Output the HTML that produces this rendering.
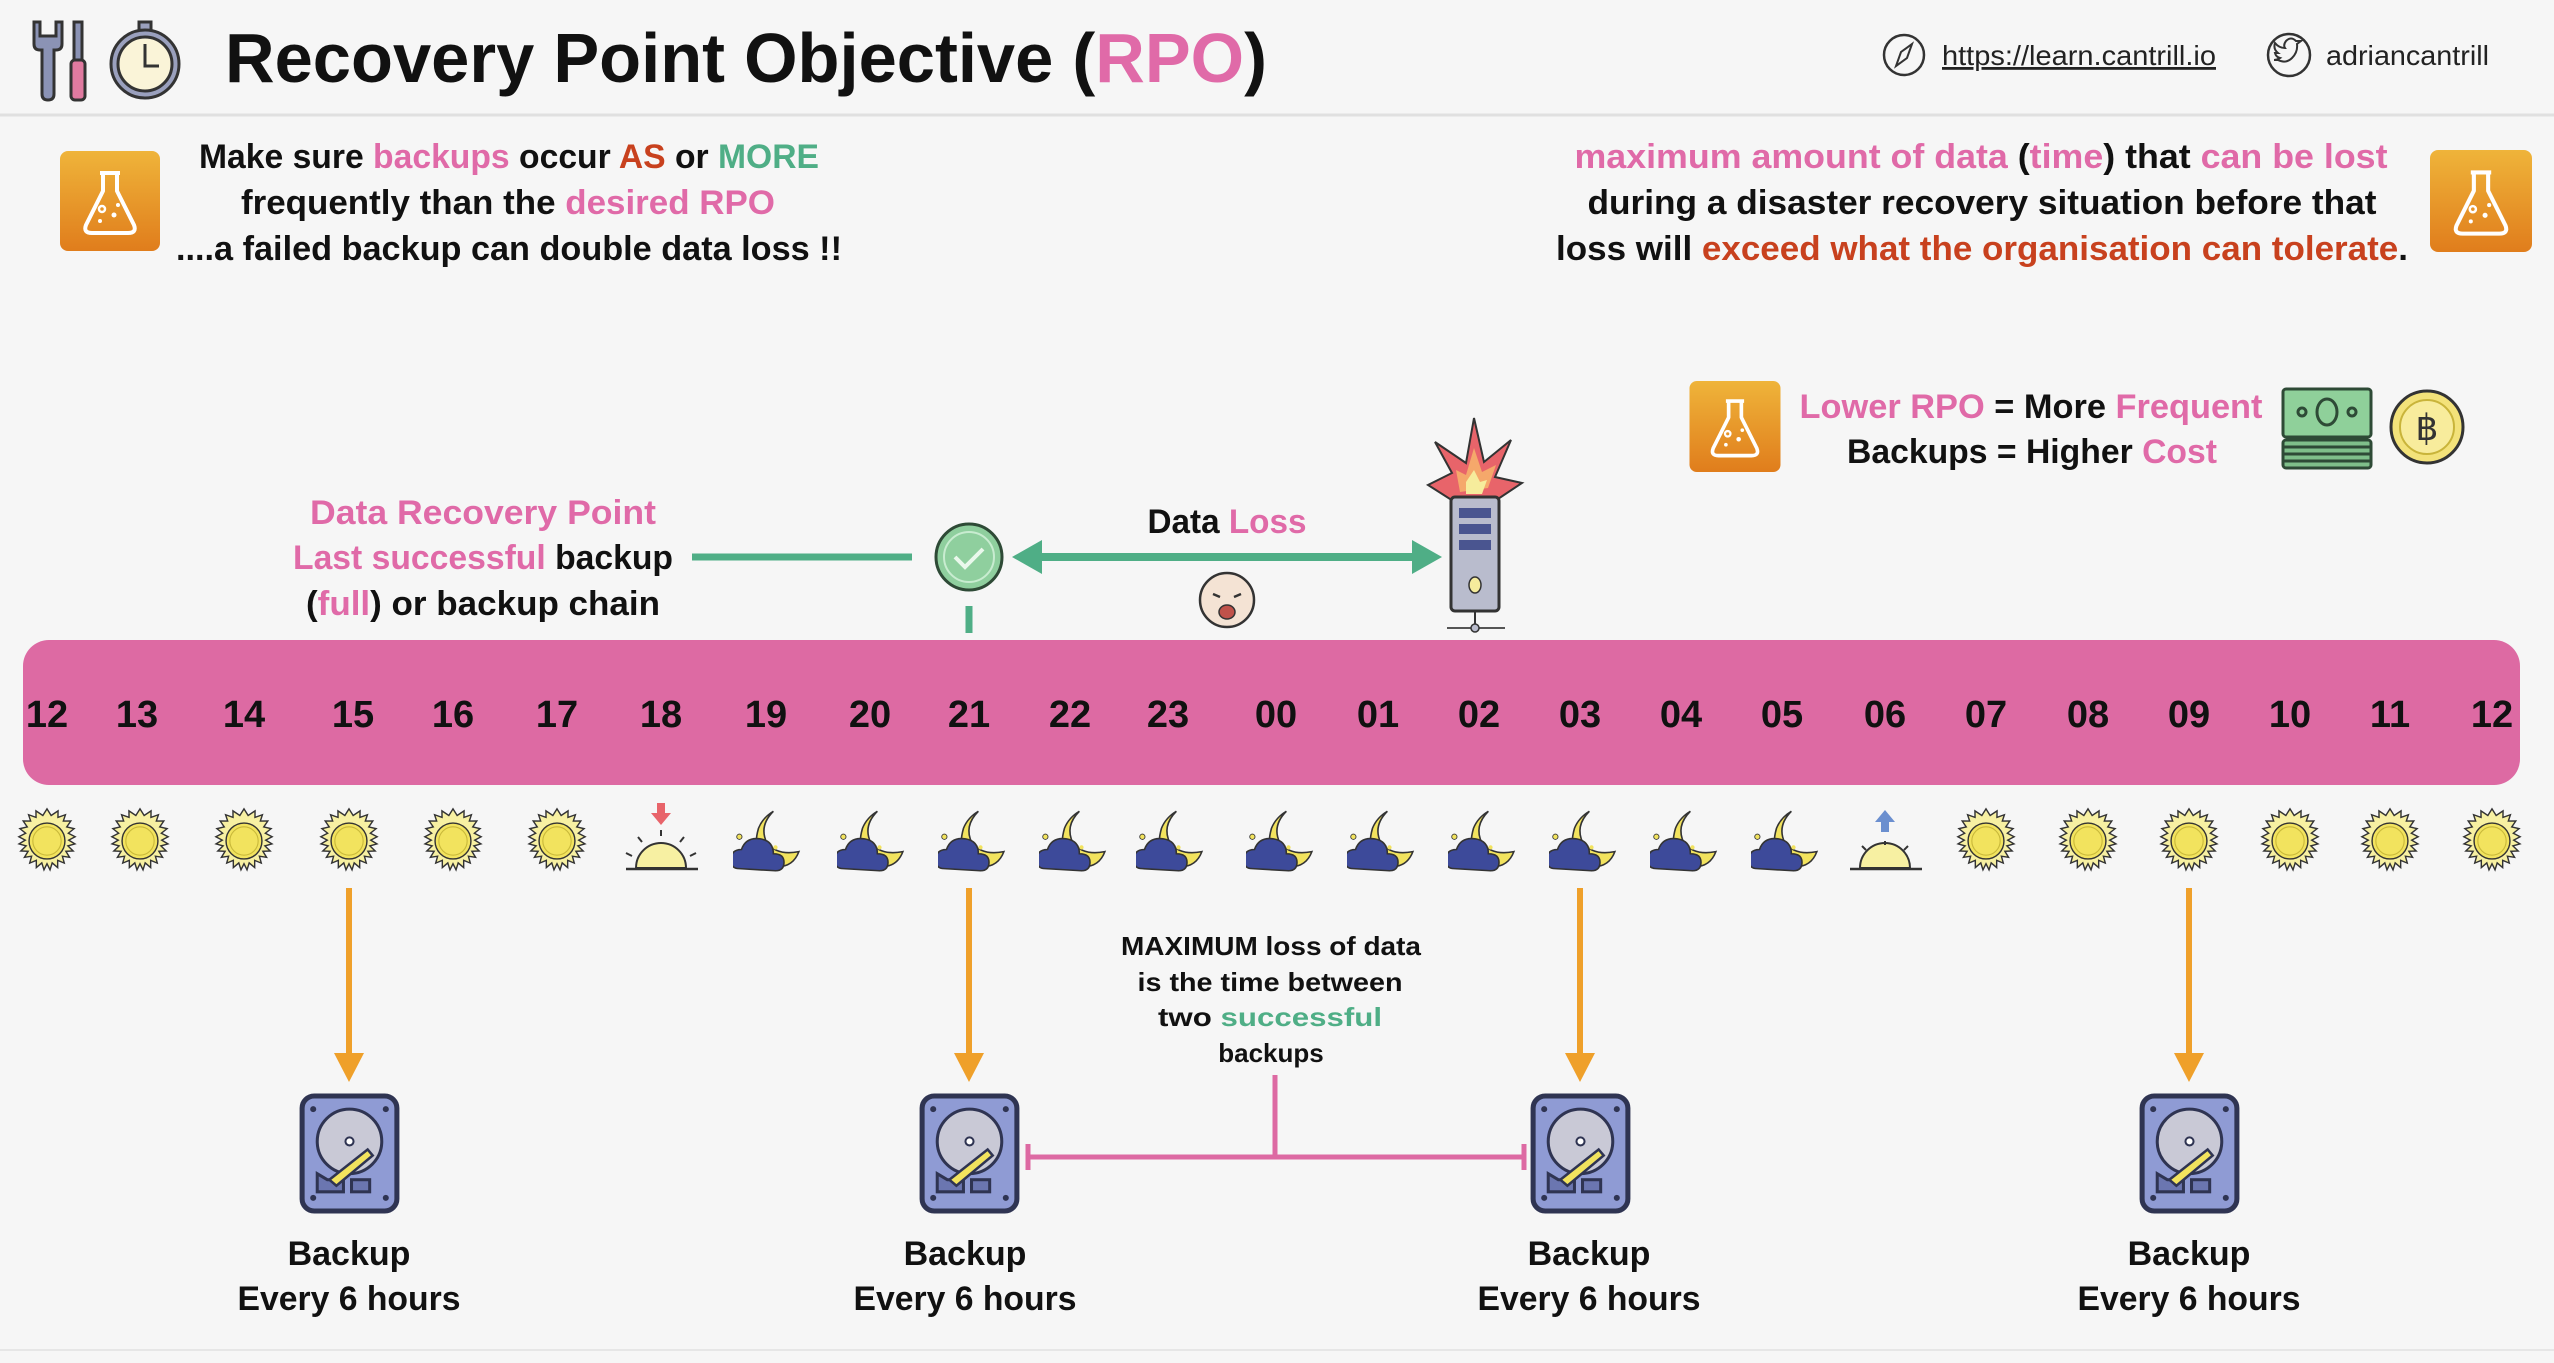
<!DOCTYPE html>
<html><head><meta charset="utf-8"><style>
html,body{margin:0;padding:0;background:#f6f6f6;}
svg{display:block;font-family:"Liberation Sans",sans-serif;font-weight:bold;}
</style></head><body>
<svg width="2554" height="1363" viewBox="0 0 2554 1363" xmlns="http://www.w3.org/2000/svg">
<defs>
<linearGradient id="og" x1="0" y1="0" x2="0" y2="1"><stop offset="0" stop-color="#efb43a"/><stop offset="1" stop-color="#e07d1c"/></linearGradient>
<symbol id="flask" viewBox="0 0 100 100">
<rect x="0" y="0" width="100" height="100" rx="8" fill="url(#og)"/>
<path d="M40 22 h20 M43 22 v18 L26 74 q-3 8 6 8 h36 q9 0 6 -8 L57 40 v-18" fill="none" stroke="#fff" stroke-width="4" stroke-linejoin="round"/>
<circle cx="42" cy="58" r="3" fill="none" stroke="#fff" stroke-width="2.5"/><circle cx="54" cy="64" r="2.5" fill="#fff"/><circle cx="40" cy="70" r="2" fill="#fff"/><circle cx="58" cy="54" r="2" fill="#fff"/>
</symbol>
<symbol id="sun" viewBox="-36 -36 72 72">
<polygon fill="#f7f0a2" stroke="#333" stroke-width="1.5" points="0,-34 4.4,-27 11.7,-31.9 11.6,-25 19.5,-27.8 17.3,-21.1 25.2,-21.2 20.9,-14.9 28.7,-13.1 22.6,-8.2 29.8,-4.5 23,-0.9 29.6,3.1 22.1,5.2 27.7,10.6 20,10.9 23.9,17.3 16.3,16.1 18.3,23.4 11.3,20.5 11.3,28.1 5.5,23.2 3.2,30.5 0,24 -3.2,30.5 -5.5,23.2 -11.3,28.1 -11.3,20.5 -18.3,23.4 -16.3,16.1 -23.9,17.3 -20,10.9 -27.7,10.6 -22.1,5.2 -29.6,3.1 -23,-0.9 -29.8,-4.5 -22.6,-8.2 -28.7,-13.1 -20.9,-14.9 -25.2,-21.2 -17.3,-21.1 -19.5,-27.8 -11.6,-25 -11.7,-31.9 -4.4,-27"/>
<circle r="19" fill="#f2e35e" stroke="#333" stroke-width="1.5"/>
<circle r="15" fill="none" stroke="#c9b93a" stroke-width="1.2"/>
</symbol>
<symbol id="moon" viewBox="-34 -32 64 60">
<path d="M4 -30 q-14 14 -6 30 q10 12 30 8 q-6 16 -24 14 q-22 -8 -14 -36 q4 -10 14 -16z" fill="#f2e35e" stroke="#333" stroke-width="1.5"/>
<path d="M-28 24 q-8 0 -8 -8 q0 -10 10 -10 q4 -12 18 -10 q12 2 12 14 q10 0 10 8 q0 8 -8 8z" fill="#3d4a9a" stroke="#333" stroke-width="1.5"/>
<circle cx="6" cy="4" r="2" fill="#f2e35e"/><circle cx="-28" cy="-6" r="2.5" fill="#f2e35e" stroke="#333" stroke-width="0.8"/>
</symbol>
<symbol id="disk" viewBox="0 0 100 120">
<rect x="3" y="3" width="94" height="114" rx="12" fill="#8f9bd4" stroke="#2f3452" stroke-width="5"/>
<circle cx="14" cy="16" r="3" fill="#2f3452"/><circle cx="86" cy="16" r="3" fill="#2f3452"/><circle cx="14" cy="104" r="3" fill="#2f3452"/><circle cx="86" cy="104" r="3" fill="#2f3452"/>
<circle cx="50" cy="48" r="32" fill="#c9c9d6" stroke="#2f3452" stroke-width="3"/>
<circle cx="50" cy="48" r="4" fill="#fff" stroke="#2f3452" stroke-width="2"/>
<path d="M18 80 v18 h26 v-12 h-16z" fill="#6b76b0" stroke="#2f3452" stroke-width="3"/>
<rect x="52" y="86" width="18" height="12" fill="#6b76b0" stroke="#2f3452" stroke-width="3"/>
<path d="M30 86 l38 -30 l5 6 l-36 30z" fill="#f2e35e" stroke="#2f3452" stroke-width="2.5"/>
</symbol>
</defs>

<rect width="2554" height="1363" fill="#f6f6f6"/>
<line x1="0" y1="115" x2="2554" y2="115" stroke="#e0e0e0" stroke-width="3"/>

<!-- header icons -->
<g stroke="#333" stroke-width="3">
<path d="M34 22 v22 q0 6 6 6 h2 v44 q0 6 6 6 q6 0 6 -6 v-44 h2 q6 0 6 -6 v-22 l-6 0 v14 h-16 v-14z" fill="#8b93b5"/>
<rect x="74" y="22" width="8" height="38" fill="#8b93b5"/>
<rect x="71" y="60" width="14" height="40" rx="4" fill="#e07aa0"/>
<rect x="139" y="22" width="12" height="9" fill="#9aa0bd"/>
<circle cx="145" cy="64" r="34" fill="#9aa0bd"/>
<circle cx="145" cy="64" r="27" fill="#faf4d8"/>
<path d="M145 44 v22 h14" fill="none"/>
</g>
<text x="225" y="82" font-size="70" fill="#111" textLength="1042" lengthAdjust="spacingAndGlyphs">Recovery Point Objective (<tspan fill="#e06aa8">RPO</tspan>)</text>

<circle cx="1904" cy="55" r="20" fill="none" stroke="#333" stroke-width="2.5"/>
<path d="M1912 44 l-5 14 l-11 8 l5 -14z" fill="none" stroke="#333" stroke-width="2"/>
<text x="1942" y="65" font-size="28" font-weight="normal" fill="#222" text-decoration="underline" textLength="274" lengthAdjust="spacingAndGlyphs">https://learn.cantrill.io</text>
<circle cx="2289" cy="55" r="21" fill="none" stroke="#333" stroke-width="2.5"/>
<path d="M2278 60 q8 4 14 -2 q6 -6 5 -14 l4 -3 l-5 0 q-5 -5 -10 0 q-3 4 -1 7 q-6 0 -10 -5 q-2 6 3 10 l-3 0 q1 4 5 5 q-3 2 -6 2z" fill="none" stroke="#333" stroke-width="2"/>
<text x="2326" y="65" font-size="28" font-weight="normal" fill="#222" textLength="163" lengthAdjust="spacingAndGlyphs">adriancantrill</text>

<!-- top text -->
<use href="#flask" x="60" y="150" width="100" height="102"/>
<g font-size="34" text-anchor="middle" fill="#111">
<text x="509" y="168" textLength="620" lengthAdjust="spacingAndGlyphs">Make sure <tspan fill="#e06aa8">backups</tspan> occur <tspan fill="#c8411e">AS</tspan> or <tspan fill="#4fae86">MORE</tspan></text>
<text x="508" y="214" textLength="534" lengthAdjust="spacingAndGlyphs">frequently than the <tspan fill="#e06aa8">desired RPO</tspan></text>
<text x="509" y="260" textLength="666" lengthAdjust="spacingAndGlyphs">....a failed backup can double data loss !!</text>
<text x="1981" y="168" textLength="813" lengthAdjust="spacingAndGlyphs"><tspan fill="#e06aa8">maximum amount of data</tspan> (<tspan fill="#e06aa8">time</tspan>) that <tspan fill="#e06aa8">can be lost</tspan></text>
<text x="1982" y="214" textLength="789" lengthAdjust="spacingAndGlyphs">during a disaster recovery situation before that</text>
<text x="1982" y="260" textLength="852" lengthAdjust="spacingAndGlyphs">loss will <tspan fill="#c8411e">exceed what the organisation can tolerate</tspan>.</text>
<text x="2031" y="418" textLength="463" lengthAdjust="spacingAndGlyphs"><tspan fill="#e06aa8">Lower RPO</tspan> = More <tspan fill="#e06aa8">Frequent</tspan></text>
<text x="2032" y="463" textLength="370" lengthAdjust="spacingAndGlyphs">Backups = Higher <tspan fill="#e06aa8">Cost</tspan></text>
<text x="483" y="524" textLength="346" lengthAdjust="spacingAndGlyphs" fill="#e06aa8">Data  Recovery Point</text>
<text x="483" y="569" textLength="380" lengthAdjust="spacingAndGlyphs"><tspan fill="#e06aa8">Last successful</tspan> backup</text>
<text x="483" y="615" textLength="354" lengthAdjust="spacingAndGlyphs">(<tspan fill="#e06aa8">full</tspan>) or backup chain</text>
<text x="1227" y="533" textLength="159" lengthAdjust="spacingAndGlyphs">Data <tspan fill="#e06aa8">Loss</tspan></text>
</g>
<use href="#flask" x="2429" y="150" width="104" height="102"/>
<use href="#flask" x="1689" y="381" width="92" height="91"/>

<!-- money & coin -->
<g stroke="#2e4a36" stroke-width="3">
<rect x="2283" y="440" width="88" height="28" rx="3" fill="#7fbf8a"/>
<line x1="2283" y1="447" x2="2371" y2="447"/><line x1="2283" y1="454" x2="2371" y2="454"/><line x1="2283" y1="461" x2="2371" y2="461"/>
<rect x="2283" y="389" width="88" height="48" rx="3" fill="#8fd09a"/>
<ellipse cx="2327" cy="412" rx="10" ry="13" fill="none"/>
<circle cx="2302" cy="412" r="4" fill="none"/><circle cx="2352" cy="412" r="4" fill="none"/>
</g>
<circle cx="2427" cy="427" r="36" fill="#f3e27a" stroke="#333" stroke-width="3"/>
<circle cx="2427" cy="427" r="27" fill="#f8ec9c" stroke="#c9b43a" stroke-width="2"/>
<text x="2427" y="440" font-size="36" text-anchor="middle" font-weight="normal" fill="#333">฿</text>

<!-- green line + check -->
<line x1="692" y1="557" x2="912" y2="557" stroke="#4fae86" stroke-width="7"/>
<circle cx="969" cy="557" r="33" fill="#8fcf9e" stroke="#2e4a36" stroke-width="3"/>
<circle cx="969" cy="557" r="25" fill="none" stroke="#c8ecd0" stroke-width="2"/>
<path d="M955 557 l10 10 l18 -18" fill="none" stroke="#eaf8ec" stroke-width="4"/>
<line x1="969" y1="606" x2="969" y2="633" stroke="#4fae86" stroke-width="7"/>
<!-- double arrow -->
<line x1="1035" y1="557" x2="1420" y2="557" stroke="#4fae86" stroke-width="8"/>
<polygon points="1012,557 1042,540 1042,574" fill="#4fae86"/>
<polygon points="1442,557 1412,540 1412,574" fill="#4fae86"/>
<!-- baby -->
<circle cx="1227" cy="600" r="27" fill="#f4e3d4" stroke="#333" stroke-width="2.5"/>
<ellipse cx="1227" cy="612" rx="8" ry="7" fill="#c0524a" stroke="#333" stroke-width="1.5"/>
<path d="M1213 594 l7 3 M1241 594 l-7 3" stroke="#333" stroke-width="2.5"/>
<!-- explosion + server -->
<polygon points="1474,418 1484,462 1511,440 1495,477 1522,483 1498,499 1450,499 1428,485 1452,473 1435,442 1466,463" fill="#e8646a" stroke="#333" stroke-width="2"/>
<polygon points="1474,448 1482,472 1496,465 1488,488 1460,492 1456,470 1466,475" fill="#f5a86b"/>
<polygon points="1474,470 1480,482 1487,480 1482,494 1466,494 1466,482" fill="#f6ec9c"/>
<rect x="1451" y="497" width="48" height="114" rx="4" fill="#b9bccd" stroke="#333" stroke-width="3"/>
<rect x="1459" y="508" width="32" height="10" fill="#4a5590"/><rect x="1459" y="524" width="32" height="10" fill="#4a5590"/><rect x="1459" y="540" width="32" height="10" fill="#4a5590"/>
<ellipse cx="1475" cy="585" rx="6" ry="8" fill="#f6ec9c" stroke="#333" stroke-width="1.5"/>
<line x1="1475" y1="611" x2="1475" y2="628" stroke="#333" stroke-width="2"/>
<line x1="1447" y1="628" x2="1505" y2="628" stroke="#555" stroke-width="2"/>
<circle cx="1475" cy="628" r="4" fill="#b9bccd" stroke="#333" stroke-width="1.5"/>

<!-- timeline bar -->
<rect x="23" y="640" width="2497" height="145" rx="26" fill="#dd6aa3"/>
<g font-size="38" text-anchor="middle" fill="#111">
<text x="47" y="727">12</text><text x="137" y="727">13</text><text x="244" y="727">14</text><text x="353" y="727">15</text><text x="453" y="727">16</text><text x="557" y="727">17</text><text x="661" y="727">18</text><text x="766" y="727">19</text><text x="870" y="727">20</text><text x="969" y="727">21</text><text x="1070" y="727">22</text><text x="1168" y="727">23</text><text x="1276" y="727">00</text><text x="1378" y="727">01</text><text x="1479" y="727">02</text><text x="1580" y="727">03</text><text x="1681" y="727">04</text><text x="1782" y="727">05</text><text x="1885" y="727">06</text><text x="1986" y="727">07</text><text x="2088" y="727">08</text><text x="2189" y="727">09</text><text x="2290" y="727">10</text><text x="2390" y="727">11</text><text x="2492" y="727">12</text>
</g>

<!-- icons row -->
<g>
<use href="#sun" x="13" y="807" width="68" height="68"/>
<use href="#sun" x="106" y="807" width="68" height="68"/>
<use href="#sun" x="210" y="807" width="68" height="68"/>
<use href="#sun" x="315" y="807" width="68" height="68"/>
<use href="#sun" x="419" y="807" width="68" height="68"/>
<use href="#sun" x="523" y="807" width="68" height="68"/>
<use href="#moon" x="733" y="807" width="68" height="68"/>
<use href="#moon" x="837" y="807" width="68" height="68"/>
<use href="#moon" x="938" y="807" width="68" height="68"/>
<use href="#moon" x="1039" y="807" width="68" height="68"/>
<use href="#moon" x="1136" y="807" width="68" height="68"/>
<use href="#moon" x="1246" y="807" width="68" height="68"/>
<use href="#moon" x="1347" y="807" width="68" height="68"/>
<use href="#moon" x="1448" y="807" width="68" height="68"/>
<use href="#moon" x="1549" y="807" width="68" height="68"/>
<use href="#moon" x="1650" y="807" width="68" height="68"/>
<use href="#moon" x="1751" y="807" width="68" height="68"/>
<use href="#sun" x="1952" y="807" width="68" height="68"/>
<use href="#sun" x="2054" y="807" width="68" height="68"/>
<use href="#sun" x="2155" y="807" width="68" height="68"/>
<use href="#sun" x="2256" y="807" width="68" height="68"/>
<use href="#sun" x="2356" y="807" width="68" height="68"/>
<use href="#sun" x="2458" y="807" width="68" height="68"/>
</g>
<!-- sunset -->
<path d="M636 868 a25 25 0 0 1 50 0z" fill="#f7f0a2" stroke="#333" stroke-width="2"/>
<line x1="626" y1="869" x2="698" y2="869" stroke="#333" stroke-width="2.5"/>
<path d="M661 836 v-6 M642 842 l-4 -5 M680 842 l4 -5 M632 856 l-6 -3 M690 856 l6 -3" stroke="#333" stroke-width="2"/>
<path d="M657 803 h8 v10 h6 l-10 12 l-10 -12 h6z" fill="#e8646a"/>
<!-- sunrise -->
<path d="M1860 868 a25 25 0 0 1 50 0z" fill="#f7f0a2" stroke="#333" stroke-width="2"/>
<line x1="1850" y1="869" x2="1922" y2="869" stroke="#333" stroke-width="2.5"/>
<path d="M1885 845 v-4 M1866 850 l-4 -4 M1904 850 l4 -4" stroke="#333" stroke-width="2"/>
<path d="M1881 832 h8 v-10 h6 l-10 -12 l-10 12 h6z" fill="#6b8fcf"/>

<!-- orange arrows -->
<g stroke="#efa02a" stroke-width="6" fill="#efa02a">
<line x1="349" y1="888" x2="349" y2="1055"/><polygon stroke="none" points="334,1053 364,1053 349,1082"/>
<line x1="969" y1="888" x2="969" y2="1055"/><polygon stroke="none" points="954,1053 984,1053 969,1082"/>
<line x1="1580" y1="888" x2="1580" y2="1055"/><polygon stroke="none" points="1565,1053 1595,1053 1580,1082"/>
<line x1="2189" y1="888" x2="2189" y2="1055"/><polygon stroke="none" points="2174,1053 2204,1053 2189,1082"/>
</g>

<!-- disks -->
<use href="#disk" x="299" y="1093" width="101" height="121"/>
<use href="#disk" x="919" y="1093" width="101" height="121"/>
<use href="#disk" x="1530" y="1093" width="101" height="121"/>
<use href="#disk" x="2139" y="1093" width="101" height="121"/>

<!-- bracket -->
<g stroke="#dd6aa3" stroke-width="5">
<line x1="1275" y1="1075" x2="1275" y2="1157"/>
<line x1="1028" y1="1157" x2="1524" y2="1157"/>
<line x1="1028" y1="1144" x2="1028" y2="1170"/>
<line x1="1524" y1="1144" x2="1524" y2="1170"/>
</g>
<g font-size="26" text-anchor="middle" fill="#111">
<text x="1271" y="955" textLength="300" lengthAdjust="spacingAndGlyphs">MAXIMUM loss of data</text>
<text x="1270" y="991" textLength="265" lengthAdjust="spacingAndGlyphs">is the time between</text>
<text x="1270" y="1026" textLength="224" lengthAdjust="spacingAndGlyphs">two <tspan fill="#4fae86">successful</tspan></text>
<text x="1271" y="1062">backups</text>
</g>

<g font-size="34" text-anchor="middle" fill="#111">
<text x="349" y="1265">Backup</text><text x="349" y="1310" textLength="223" lengthAdjust="spacingAndGlyphs">Every 6 hours</text>
<text x="965" y="1265">Backup</text><text x="965" y="1310" textLength="223" lengthAdjust="spacingAndGlyphs">Every 6 hours</text>
<text x="1589" y="1265">Backup</text><text x="1589" y="1310" textLength="223" lengthAdjust="spacingAndGlyphs">Every 6 hours</text>
<text x="2189" y="1265">Backup</text><text x="2189" y="1310" textLength="223" lengthAdjust="spacingAndGlyphs">Every 6 hours</text>
</g>
<line x1="0" y1="1350" x2="2554" y2="1350" stroke="#e6e6e6" stroke-width="2"/>
</svg>
</body></html>
